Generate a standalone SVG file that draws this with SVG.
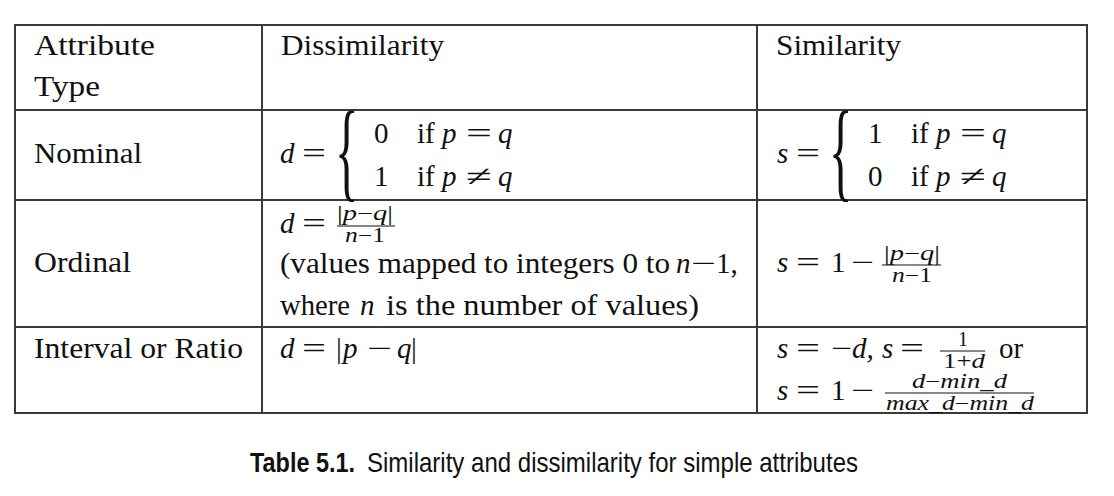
<svg xmlns="http://www.w3.org/2000/svg" width="1114" height="496" viewBox="0 0 1114 496">
<style>
.t{font-family:"Liberation Serif","Times New Roman",serif;font-size:29px;fill:#111}
.i{font-style:italic}
.sm{font-size:20px}
.br{font-family:"Liberation Serif","Times New Roman",serif;font-size:109px;fill:#111}
.grid{fill:none;stroke:#3a3a3a;stroke-width:2}
.bar{stroke:#111;stroke-width:1.2}
.cap{font-family:"Liberation Sans",Arial,sans-serif;font-size:28px;fill:#111}
.b{font-weight:bold}
</style>
<rect width="1114" height="496" fill="#fff"/>
<g id="grid">
<rect class="grid" x="15" y="25" width="1072" height="388"/>
<line class="grid" x1="262" y1="25" x2="262" y2="413"/>
<line class="grid" x1="757" y1="25" x2="757" y2="413"/>
<line class="grid" x1="15" y1="110" x2="1087" y2="110"/>
<line class="grid" x1="15" y1="200" x2="1087" y2="200"/>
<line class="grid" x1="15" y1="327" x2="1087" y2="327"/>
</g>
<g id="header">
<text class="t" x="34" y="55" textLength="121" lengthAdjust="spacingAndGlyphs">Attribute</text>
<text class="t" x="34" y="96" textLength="66" lengthAdjust="spacingAndGlyphs">Type</text>
<text class="t" x="281" y="55" textLength="163" lengthAdjust="spacingAndGlyphs">Dissimilarity</text>
<text class="t" x="776" y="55" textLength="125" lengthAdjust="spacingAndGlyphs">Similarity</text>
</g>
<g id="row-nominal">
<text class="t" x="34" y="163" textLength="108" lengthAdjust="spacingAndGlyphs">Nominal</text>
<text class="t i" x="280" y="163">d</text>
<text class="t" x="302" y="163" textLength="24" lengthAdjust="spacingAndGlyphs">=</text>
<text class="br" transform="translate(335,187) scale(0.45,1)">{</text>
<text class="t" x="374" y="143">0</text>
<text class="t" x="417" y="143">if</text>
<text class="t i" x="442" y="143">p</text>
<text class="t" x="466" y="143" textLength="26" lengthAdjust="spacingAndGlyphs">=</text>
<text class="t i" x="498" y="143">q</text>
<text class="t" x="374" y="186">1</text>
<text class="t" x="417" y="186">if</text>
<text class="t i" x="442" y="186">p</text>
<text class="t" x="466" y="186" textLength="26" lengthAdjust="spacingAndGlyphs">≠</text>
<text class="t i" x="498" y="186">q</text>
<text class="t i" x="777" y="163">s</text>
<text class="t" x="796" y="163" textLength="24" lengthAdjust="spacingAndGlyphs">=</text>
<text class="br" transform="translate(829,187) scale(0.45,1)">{</text>
<text class="t" x="868" y="143">1</text>
<text class="t" x="911" y="143">if</text>
<text class="t i" x="936" y="143">p</text>
<text class="t" x="960" y="143" textLength="26" lengthAdjust="spacingAndGlyphs">=</text>
<text class="t i" x="992" y="143">q</text>
<text class="t" x="868" y="186">0</text>
<text class="t" x="911" y="186">if</text>
<text class="t i" x="936" y="186">p</text>
<text class="t" x="960" y="186" textLength="26" lengthAdjust="spacingAndGlyphs">≠</text>
<text class="t i" x="992" y="186">q</text>
</g>
<g id="row-ordinal">
<text class="t" x="34" y="272" textLength="97" lengthAdjust="spacingAndGlyphs">Ordinal</text>
<text class="t i" x="280" y="233">d</text>
<text class="t" x="302" y="233" textLength="24" lengthAdjust="spacingAndGlyphs">=</text>
<text class="t sm" x="337" y="220" textLength="56" lengthAdjust="spacingAndGlyphs">|<tspan class="i">p</tspan>−<tspan class="i">q</tspan>|</text>
<line class="bar" x1="337" y1="226" x2="395" y2="226"/>
<text class="t sm" x="345" y="242" textLength="40" lengthAdjust="spacingAndGlyphs"><tspan class="i">n</tspan>−1</text>
<text class="t" x="280" y="273" textLength="390" lengthAdjust="spacingAndGlyphs">(values mapped to integers 0 to</text>
<text class="t i" x="676" y="273">n</text>
<text class="t" x="691" y="273" textLength="25" lengthAdjust="spacingAndGlyphs">−</text>
<text class="t" x="716" y="273">1,</text>
<text class="t" x="280" y="315" textLength="70" lengthAdjust="spacingAndGlyphs">where</text>
<text class="t i" x="360" y="315">n</text>
<text class="t" x="386" y="315" textLength="313" lengthAdjust="spacingAndGlyphs">is the number of values)</text>
<text class="t i" x="777" y="272">s</text>
<text class="t" x="796" y="272" textLength="24" lengthAdjust="spacingAndGlyphs">=</text>
<text class="t" x="831" y="272">1</text>
<text class="t" x="851" y="272" textLength="23" lengthAdjust="spacingAndGlyphs">−</text>
<text class="t sm" x="884" y="260" textLength="56" lengthAdjust="spacingAndGlyphs">|<tspan class="i">p</tspan>−<tspan class="i">q</tspan>|</text>
<line class="bar" x1="882" y1="265" x2="941" y2="265"/>
<text class="t sm" x="892" y="282" textLength="40" lengthAdjust="spacingAndGlyphs"><tspan class="i">n</tspan>−1</text>
</g>
<g id="row-interval">
<text class="t" x="34" y="358" textLength="209" lengthAdjust="spacingAndGlyphs">Interval or Ratio</text>
<text class="t i" x="280" y="358">d</text>
<text class="t" x="302" y="358" textLength="24" lengthAdjust="spacingAndGlyphs">=</text>
<text class="t" x="336" y="358">|</text>
<text class="t i" x="343" y="358">p</text>
<text class="t" x="367" y="358" textLength="25" lengthAdjust="spacingAndGlyphs">−</text>
<text class="t i" x="397" y="358">q</text>
<text class="t" x="411" y="358">|</text>
<text class="t i" x="777" y="358">s</text>
<text class="t" x="796" y="358" textLength="24" lengthAdjust="spacingAndGlyphs">=</text>
<text class="t" x="831" y="358" textLength="21" lengthAdjust="spacingAndGlyphs">−</text>
<text class="t i" x="852" y="358">d,</text>
<text class="t i" x="882" y="358">s</text>
<text class="t" x="900" y="358" textLength="24" lengthAdjust="spacingAndGlyphs">=</text>
<text class="t sm" x="958" y="346">1</text>
<line class="bar" x1="940" y1="351" x2="985" y2="351"/>
<text class="t sm" x="943" y="368" textLength="42" lengthAdjust="spacingAndGlyphs">1+<tspan class="i">d</tspan></text>
<text class="t" x="999" y="358">or</text>
<text class="t i" x="777" y="400">s</text>
<text class="t" x="796" y="400" textLength="24" lengthAdjust="spacingAndGlyphs">=</text>
<text class="t" x="831" y="400">1</text>
<text class="t" x="851" y="400" textLength="23" lengthAdjust="spacingAndGlyphs">−</text>
<text class="t sm" x="912" y="388" textLength="95" lengthAdjust="spacingAndGlyphs"><tspan class="i">d</tspan>−<tspan class="i">min_d</tspan></text>
<line class="bar" x1="885" y1="393" x2="1034" y2="393"/>
<text class="t sm" x="886" y="410" textLength="148" lengthAdjust="spacingAndGlyphs"><tspan class="i">max_d</tspan>−<tspan class="i">min_d</tspan></text>
</g>
<g id="caption">
<text class="cap b" x="250" y="472" textLength="105" lengthAdjust="spacingAndGlyphs">Table 5.1.</text>
<text class="cap" x="367" y="472" textLength="491" lengthAdjust="spacingAndGlyphs">Similarity and dissimilarity for simple attributes</text>
</g>
</svg>
